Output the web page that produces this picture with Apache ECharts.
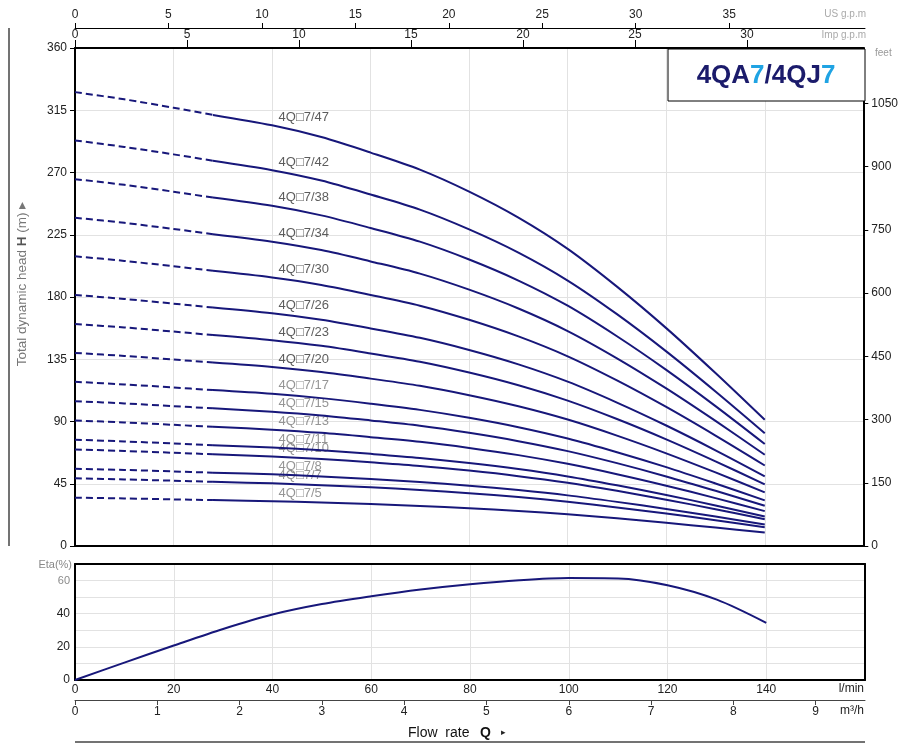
<!DOCTYPE html>
<html><head><meta charset="utf-8">
<script src="https://cdn.jsdelivr.net/npm/echarts@6/dist/echarts.min.js"></script>
<style>html,body{margin:0;padding:0;background:#fff}#c{width:901px;height:744px}</style>
</head><body><div id="c"></div>
<script>
// ---------- DATA ----------
const flowQ = [0,10,20,28,40,50,60,70,80,90,100,110,120,130,140];   // l/min
const dashEndIndex = 3; // curves dashed from Q=0 to Q=28 l/min
const head47 = [328.1,322.9,316.8,311.6,304.1,295.6,284.4,272.1,256.2,237.4,214.8,187.5,157.5,125.0,91.2];
const head42 = [293.2,288.5,283.1,278.5,271.7,264.2,254.1,243.2,228.9,212.1,191.9,167.6,140.7,111.7,81.5];
const head38 = [265.2,261.1,256.1,251.9,245.9,239.0,229.9,220.0,207.1,191.9,173.7,151.6,127.3,101.1,73.7];
const head34 = [237.3,233.6,229.2,225.4,220.0,213.9,205.7,196.9,185.3,171.7,155.4,135.7,113.9,90.4,66.0];
const head30 = [209.4,206.1,202.2,198.9,194.1,188.7,181.5,173.7,163.5,151.5,137.1,119.7,100.5,79.8,58.2];
const head26 = [181.5,178.6,175.2,172.4,168.2,163.5,157.3,150.5,141.7,131.3,118.8,103.7,87.1,69.2,50.4];
const head23 = [160.5,158.0,155.0,152.5,148.8,144.7,139.2,133.2,125.4,116.2,105.1,91.8,77.1,61.2,44.6];
const head20 = [139.6,137.4,134.8,132.6,129.4,125.8,121.0,115.8,109.0,101.0,91.4,79.8,67.0,53.2,38.8];
const head17 = [118.7,116.8,114.6,112.7,110.0,106.9,102.9,98.4,92.7,85.9,77.7,67.8,57.0,45.2,33.0];
const head15 = [104.7,103.1,101.1,99.5,97.1,94.4,90.8,86.9,81.8,75.8,68.6,59.9,50.3,39.9,29.1];
const head13 = [90.7,89.3,87.6,86.2,84.1,81.8,78.7,75.3,70.9,65.7,59.4,51.9,43.6,34.6,25.2];
const head11 = [76.8,75.6,74.1,72.9,71.2,69.2,66.6,63.7,60.0,55.6,50.3,43.9,36.9,29.3,21.3];
const head10 = [69.8,68.7,67.4,66.3,64.7,62.9,60.5,57.9,54.5,50.5,45.7,39.9,33.5,26.6,19.4];
const head8  = [55.8,55.0,53.9,53.0,51.8,50.3,48.4,46.3,43.6,40.4,36.6,31.9,26.8,21.3,15.5];
const head7  = [48.9,48.1,47.2,46.4,45.3,44.0,42.4,40.5,38.2,35.4,32.0,27.9,23.5,18.6,13.6];
const head5  = [34.9,34.4,33.7,33.2,32.4,31.5,30.3,29.0,27.3,25.3,22.9,20.0,16.8,13.3,9.7];
const modelNames = ['4Q□7/47','4Q□7/42','4Q□7/38','4Q□7/34','4Q□7/30','4Q□7/26','4Q□7/23','4Q□7/20',
                    '4Q□7/17','4Q□7/15','4Q□7/13','4Q□7/11','4Q□7/10','4Q□7/8','4Q□7/7','4Q□7/5'];
const modelHeads = [head47,head42,head38,head34,head30,head26,head23,head20,
                    head17,head15,head13,head11,head10,head8,head7,head5];
const labelAtIndex = 4; // label drawn near Q = 40 l/min

const etaQ   = [0,10,20,30,40,50,60,70,80,90,100,110,120,130,140];
const etaVal = [0,10.5,20.8,30.8,39.5,45.8,50.5,54.6,57.8,60.2,61.5,61.3,57.2,48.5,34.5];

// axes ranges / ticks
const lpmMax = 160, lpmStep = 20;
const headMax = 360, headStep = 45;
const etaMax = 70, etaStep = 10;
const lpmLabels = [0,20,40,60,80,100,120,140];
const usGpmTicks = [0,5,10,15,20,25,30,35];
const impGpmTicks = [0,5,10,15,20,25,30];
const feetTicks = [0,150,300,450,600,750,900,1050];
const m3hTicks = [0,1,2,3,4,5,6,7,8,9];
const etaLabels = [0,20,40,60];
const US_GAL = 3.785411784, IMP_GAL = 4.54609, FOOT = 0.3048;

// ---------- CHART ----------
const FONT = '"Liberation Sans", Arial, sans-serif';
const NAVY = '#17177a';
const GRID_C = '#e2e2e2';
const chart = echarts.init(document.getElementById('c'), null, {renderer:'canvas'});

const series = [];
modelHeads.forEach((h, k) => {
  const pts = flowQ.map((q, i) => [q, h[i]]);
  series.push({type:'line', xAxisIndex:0, yAxisIndex:0, data: pts.slice(0, dashEndIndex + 1),
    smooth:0.3, showSymbol:false, symbol:'none', silent:true,
    lineStyle:{color:NAVY, width:2, type:[7,4]}});
  series.push({type:'line', xAxisIndex:0, yAxisIndex:0, data: pts.slice(dashEndIndex),
    smooth:0.3, showSymbol:false, symbol:'none', silent:true,
    lineStyle:{color:NAVY, width:2}});
});
series.push({type:'scatter', xAxisIndex:0, yAxisIndex:0, symbolSize:1, silent:true,
  itemStyle:{color:'rgba(0,0,0,0)'},
  data: modelHeads.map((h, k) => ({name: modelNames[k], value:[flowQ[labelAtIndex], h[labelAtIndex]],
    label:{color: k < 8 ? '#333' : '#7a7a7a'}})),
  label:{show:true, position:'right', distance:6, offset:[0,-8], formatter:'{b}', fontSize:13, fontFamily:FONT}
});
series.push({type:'line', xAxisIndex:2, yAxisIndex:2, data: etaQ.map((q,i)=>[q, etaVal[i]]),
  smooth:0.3, showSymbol:false, symbol:'none', silent:true, lineStyle:{color:NAVY, width:2}});

const lblBase = {fontSize:12, color:'#222', fontFamily:FONT};
const blackLine = w => ({show:true, onZero:false, lineStyle:{color:'#000', width:w}});

chart.setOption({
  animation:false,
  backgroundColor:'#fff',
  grid:[
    {left:75, top:48, width:790, height:498},
    {left:75, top:564, width:790, height:116},
    {left:75, top:28, width:790, height:1},
    {left:75, top:699, width:790, height:1}
  ],
  xAxis:[
    {gridIndex:0, type:'value', min:0, max:lpmMax, interval:lpmStep, position:'bottom',
      axisLine:blackLine(2), axisTick:{show:false}, axisLabel:{show:false},
      splitLine:{show:true, lineStyle:{color:GRID_C, width:1}}},
    {gridIndex:0, type:'value', min:0, max:lpmMax/IMP_GAL, interval:5, position:'top',
      axisLine:blackLine(2), axisTick:{show:true, length:8, customValues:impGpmTicks, lineStyle:{color:'#000'}},
      axisLabel:Object.assign({margin:7, formatter:v => impGpmTicks.includes(v) ? String(v) : ''}, lblBase),
      splitLine:{show:false}},
    {gridIndex:1, type:'value', min:0, max:lpmMax, interval:lpmStep, position:'bottom',
      axisLine:blackLine(2), axisTick:{show:false},
      axisLabel:Object.assign({margin:4, formatter:v => lpmLabels.includes(v) ? String(v) : ''}, lblBase),
      splitLine:{show:true, lineStyle:{color:GRID_C, width:1}}},
    {gridIndex:1, type:'value', min:0, max:lpmMax, interval:lpmStep, position:'top',
      axisLine:blackLine(2), axisTick:{show:false}, axisLabel:{show:false}, splitLine:{show:false}},
    {gridIndex:2, type:'value', min:0, max:lpmMax/US_GAL, interval:5, position:'top',
      axisLine:{show:true, onZero:false, lineStyle:{color:'#000', width:1}},
      axisTick:{show:true, length:5, customValues:usGpmTicks, lineStyle:{color:'#000'}},
      axisLabel:Object.assign({margin:7, formatter:v => usGpmTicks.includes(v) ? String(v) : ''}, lblBase),
      splitLine:{show:false}},
    {gridIndex:3, type:'value', min:0, max:lpmMax*60/1000, interval:1, position:'bottom',
      axisLine:{show:true, onZero:false, lineStyle:{color:'#444', width:1}},
      axisTick:{show:true, length:5, customValues:m3hTicks, lineStyle:{color:'#444'}},
      axisLabel:Object.assign({margin:6, formatter:v => m3hTicks.includes(v) ? String(v) : ''}, lblBase),
      splitLine:{show:false}}
  ],
  yAxis:[
    {gridIndex:0, type:'value', min:0, max:headMax, interval:headStep, position:'left',
      axisLine:blackLine(2), axisTick:{show:true, length:5, lineStyle:{color:'#000'}},
      axisLabel:Object.assign({margin:8}, lblBase),
      splitLine:{show:true, lineStyle:{color:GRID_C, width:1}}},
    {gridIndex:0, type:'value', min:0, max:headMax/FOOT, interval:150, position:'right',
      axisLine:blackLine(2), axisTick:{show:true, length:5, customValues:feetTicks, lineStyle:{color:'#000'}},
      axisLabel:Object.assign({margin:8, formatter:v => feetTicks.includes(v) ? String(v) : ''}, lblBase),
      splitLine:{show:false}},
    {gridIndex:1, type:'value', min:0, max:etaMax, interval:etaStep, position:'left',
      axisLine:blackLine(2), axisTick:{show:false},
      axisLabel:Object.assign({margin:5, formatter:v => etaLabels.includes(v) ? (v===60 ? '{g|60}' : String(v)) : '',
        rich:{g:{color:'#8a8a8a', fontSize:11, fontFamily:FONT}}}, lblBase),
      splitLine:{show:true, lineStyle:{color:GRID_C, width:1}}},
    {gridIndex:1, type:'value', min:0, max:etaMax, interval:etaStep, position:'right',
      axisLine:blackLine(2), axisTick:{show:false}, axisLabel:{show:false}, splitLine:{show:false}},
    {gridIndex:2, type:'value', show:false},
    {gridIndex:3, type:'value', show:false}
  ],
  graphic:[
    {type:'line', shape:{x1:9, y1:28, x2:9, y2:546}, style:{stroke:'#444', lineWidth:1.5}},
    {type:'line', shape:{x1:75, y1:742, x2:865, y2:742}, style:{stroke:'#444', lineWidth:1.5}},
    {type:'rect', z:50, shape:{x:668, y:49, width:197, height:52}, style:{fill:'#fff', stroke:'#000', lineWidth:1}},
    {type:'text', z:51, x:766, y:76, style:{text:'{n|4QA}{b|7}{n|/4QJ}{b|7}', align:'center', verticalAlign:'middle',
      rich:{n:{fontSize:26, fontWeight:'bold', fill:'#1b1b6b', fontFamily:FONT},
            b:{fontSize:26, fontWeight:'bold', fill:'#1fa3e3', fontFamily:FONT}}}},
    {type:'text', x:22, y:284, rotation:Math.PI/2, style:{text:'{a|Total dynamic head }{b|H}{a| (m) ▸}',
      align:'center', verticalAlign:'middle',
      rich:{a:{fontSize:13.5, fill:'#777', fontFamily:FONT}, b:{fontSize:13.5, fontWeight:'bold', fill:'#555', fontFamily:FONT}}}},
    {type:'text', x:866, y:14, style:{text:'US g.p.m', align:'right', verticalAlign:'middle', fontSize:10, fill:'#aaa', fontFamily:FONT}},
    {type:'text', x:866, y:35, style:{text:'Imp g.p.m', align:'right', verticalAlign:'middle', fontSize:10, fill:'#aaa', fontFamily:FONT}},
    {type:'text', x:875, y:53, style:{text:'feet', align:'left', verticalAlign:'middle', fontSize:10, fill:'#999', fontFamily:FONT}},
    {type:'text', x:864, y:689, style:{text:'l/min', align:'right', verticalAlign:'middle', fontSize:12, fill:'#222', fontFamily:FONT}},
    {type:'text', x:864, y:711, style:{text:'m³/h', align:'right', verticalAlign:'middle', fontSize:12, fill:'#222', fontFamily:FONT}},
    {type:'text', x:72, y:565, style:{text:'Eta(%)', align:'right', verticalAlign:'middle', fontSize:11, fill:'#888', fontFamily:FONT}},
    {type:'text', x:408, y:733, style:{text:'Flow  rate', align:'left', verticalAlign:'middle', fontSize:14, fill:'#111', fontFamily:FONT}},
    {type:'text', x:480, y:733, style:{text:'Q', align:'left', verticalAlign:'middle', fontSize:14, fontWeight:'bold', fill:'#111', fontFamily:FONT}},
    {type:'text', x:501, y:733, style:{text:'▸', align:'left', verticalAlign:'middle', fontSize:9, fill:'#222', fontFamily:FONT}}
  ],
  series: series
});
</script>
</body></html>
